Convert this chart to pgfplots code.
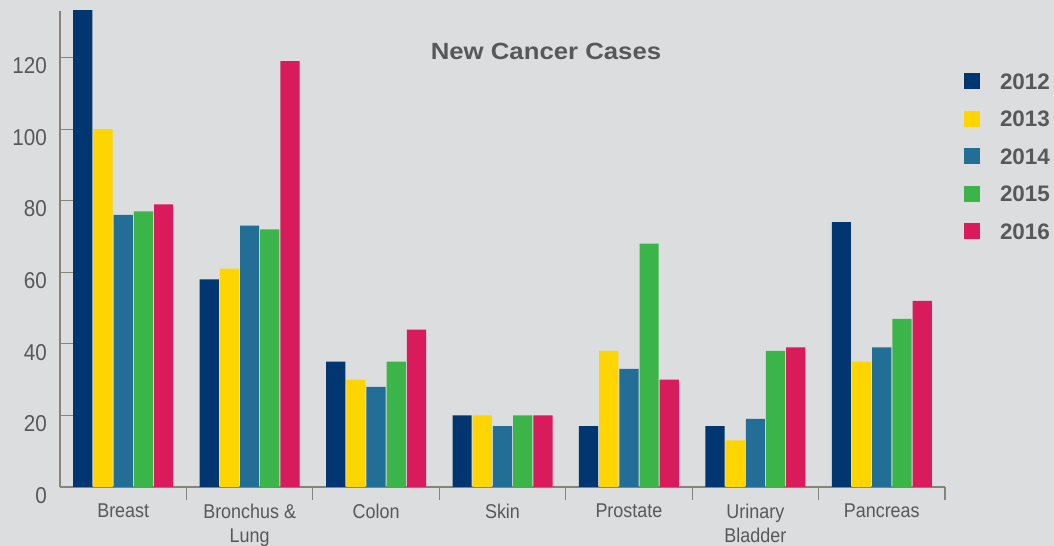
\documentclass[border=0pt]{standalone}
\usepackage{fontspec}
\setmainfont{Liberation Sans}
\newfontfamily\narrowfont[FakeStretch=0.9]{Liberation Sans}
\newfontfamily\widefont[FakeStretch=1.1]{Liberation Sans}
\usepackage{pgfplots}
\pgfplotsset{compat=1.18}
\definecolor{bg}{HTML}{DCDDDF}
\definecolor{txt}{HTML}{58585B}
\definecolor{axgray}{HTML}{86847A}
\definecolor{c12}{HTML}{023670}
\definecolor{c13}{HTML}{FFD500}
\definecolor{c14}{HTML}{236E96}
\definecolor{c15}{HTML}{3BB44A}
\definecolor{c16}{HTML}{D91A5B}
\pgfplotsset{mylegend/.style={legend image code/.code={\fill[##1] (0bp,-7bp) rectangle (16bp,9bp);}}}
\begin{document}
\begin{tikzpicture}
\fill[bg] (0,0) rectangle (1054bp,546bp);
\begin{axis}[
  at={(60bp,59bp)}, anchor=south west,
  scale only axis, width=885bp, height=476bp,
  xmin=-0.5, xmax=6.5, ymin=0, ymax=133,
  axis x line=bottom, axis y line=left,
  axis line style={draw=axgray, line width=1.2bp, -},
  tick align=inside,
  major tick length=13bp,
  tick style={draw=axgray, line width=1.2bp},
  /pgf/number format/assume math mode=true,
  ybar=1bp, bar width=19.2bp,
  xtick={0.5,1.5,...,6.5}, xticklabels={},
  extra x ticks={0,1,2,3,4,5,6},
  extra x tick labels={Breast,{Bronchus \&\\Lung},Colon,Skin,Prostate,{Urinary\\Bladder},Pancreas},
  extra x tick style={major tick length=0pt},
  x tick label style={font=\narrowfont\fontsize{20}{23.5}\selectfont, text=txt, align=center, anchor=north, inner sep=0pt, yshift=-17bp},
  ytick={0,20,...,120},
  y tick label style={font=\narrowfont\fontsize{23}{23}\selectfont, text=txt, anchor=north east, inner sep=0pt, xshift=-13bp},
  legend style={at={(1.0215,0.8697)}, anchor=north west, draw=none, fill=none, inner sep=0pt, outer sep=0pt,
    row sep=20bp, column sep=20bp, font=\bfseries\fontsize{22.5}{22.5}\selectfont, text=txt,
    nodes={inner sep=0pt, outer sep=0pt}},
  legend cell align=left,
]
\addplot[fill=c12, draw=none, mylegend] coordinates {(0,140) (1,58) (2,35) (3,20) (4,17) (5,17) (6,74)};
\addplot[fill=c13, draw=none, mylegend] coordinates {(0,100) (1,61) (2,30) (3,20) (4,38) (5,13) (6,35)};
\addplot[fill=c14, draw=none, mylegend] coordinates {(0,76) (1,73) (2,28) (3,17) (4,33) (5,19) (6,39)};
\addplot[fill=c15, draw=none, mylegend] coordinates {(0,77) (1,72) (2,35) (3,20) (4,68) (5,38) (6,47)};
\addplot[fill=c16, draw=none, mylegend] coordinates {(0,79) (1,119) (2,44) (3,20) (4,30) (5,39) (6,52)};
\legend{2012,2013,2014,2015,2016}
\end{axis}
\node[text=txt, font=\widefont\bfseries\fontsize{23.5}{23.5}\selectfont, inner sep=0pt] at (546bp,495bp) {New Cancer Cases};
\pgfresetboundingbox
\path[use as bounding box] (0,0) rectangle (1054bp,546bp);
\end{tikzpicture}
\end{document}
